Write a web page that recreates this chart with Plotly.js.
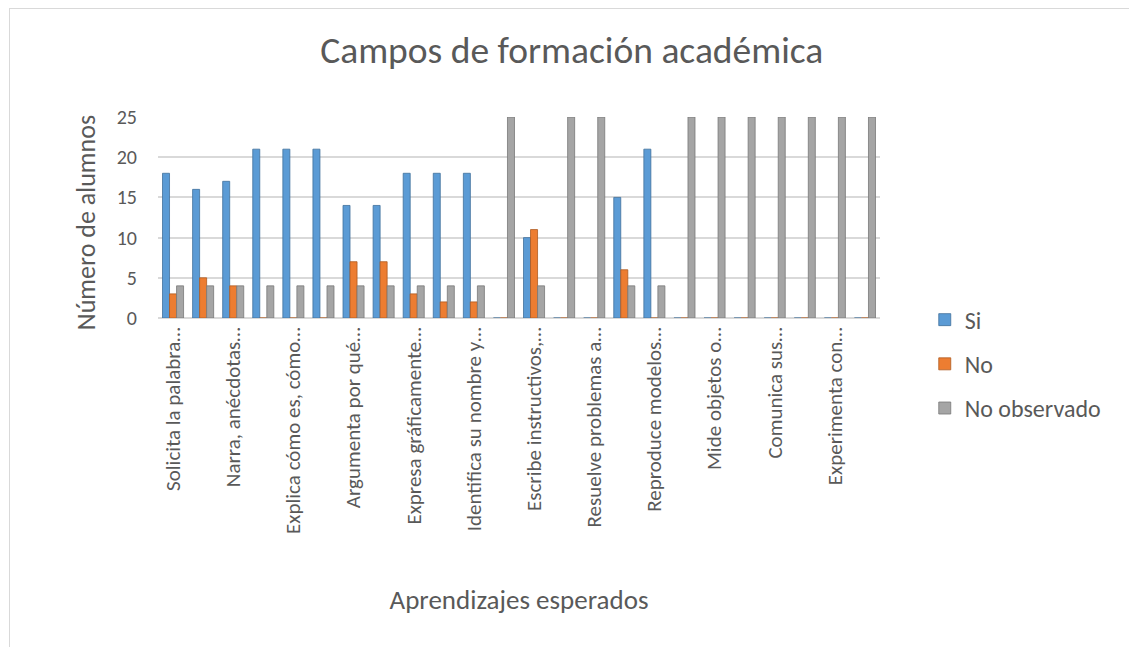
<!DOCTYPE html>
<html>
<head>
<meta charset="utf-8">
<script src="https://cdn.plot.ly/plotly-3.0.1.min.js"></script>
<style>
  html, body { margin: 0; padding: 0; background: #ffffff; overflow: hidden; }
  #frame { position: absolute; left: 9px; top: 8px; border-left: 1px solid #d9d9d9; border-top: 1px solid #d9d9d9; }
  #chart { width: 1119px; height: 638px; }
</style>
</head>
<body>
<div id="frame"><div id="chart"></div></div>
<script>
// Expected learnings (24 items; every other label is shown on the axis, truncated as in the source)
const itemIndex = [1,2,3,4,5,6,7,8,9,10,11,12,13,14,15,16,17,18,19,20,21,22,23,24];
const tickPositions = [1,3,5,7,9,11,13,15,17,19,21,23];
const tickLabels = [
  "Solicita la palabra…",
  "Narra, anécdotas…",
  "Explica cómo es, cómo…",
  "Argumenta por qué…",
  "Expresa gráficamente…",
  "Identifica su nombre y…",
  "Escribe instructivos,…",
  "Resuelve problemas a…",
  "Reproduce modelos…",
  "Mide objetos o…",
  "Comunica sus…",
  "Experimenta con…"
];
const si           = [18,16,17,21,21,21,14,14,18,18,18, 0,10, 0, 0,15,21, 0, 0, 0, 0, 0, 0, 0];
const no           = [ 3, 5, 4, 0, 0, 0, 7, 7, 3, 2, 2, 0,11, 0, 0, 6, 0, 0, 0, 0, 0, 0, 0, 0];
const noObservado  = [ 4, 4, 4, 4, 4, 4, 4, 4, 4, 4, 4,25, 4,25,25, 4, 4,25,25,25,25,25,25,25];

const FONT = "Carlito, Lato, 'Open Sans', sans-serif";
const TXT = "#595959";

const traces = [
  { name: "Si", y: si, color: "#5B9BD5", line: "#41719C" },
  { name: "No", y: no, color: "#ED7D31", line: "#AE5A21" },
  { name: "No observado", y: noObservado, color: "#A5A5A5", line: "#787878" }
].map((s, i) => ({
  type: "bar",
  name: s.name,
  x: itemIndex,
  y: s.y,
  legendgroup: "g" + i,
  marker: { color: s.color, line: { color: s.line, width: 0.8 } },
  hovertemplate: "%{y}<extra>" + s.name + "</extra>"
}));

const layout = {
  width: 1119,
  height: 638,
  paper_bgcolor: "#ffffff",
  plot_bgcolor: "#ffffff",
  font: { family: FONT, color: TXT, size: 20 },
  margin: { l: 148, r: 249, t: 108, b: 329, autoexpand: false },
  barmode: "group",
  bargap: 0.3,
  bargroupgap: 0,
  title: {
    text: "Campos de formación académica",
    font: { family: FONT, size: 37.5, color: TXT },
    x: 0.502, xref: "container", xanchor: "center",
    y: 1 - 41 / 638, yref: "container", yanchor: "middle"
  },
  xaxis: {
    range: [0.5, 24.5],
    tickmode: "array",
    tickvals: tickPositions,
    ticktext: tickLabels,
    tickangle: -90,
    tickfont: { size: 21, color: TXT, family: FONT },
    ticks: "",
    ticklabelstandoff: 4,
    showgrid: false,
    zeroline: false,
    showline: false,
    automargin: false,
    fixedrange: true,
    title: { text: "Aprendizajes esperados", font: { size: 27, color: TXT, family: FONT }, standoff: 57 }
  },
  yaxis: {
    range: [0, 25],
    tickmode: "linear",
    tick0: 0,
    dtick: 5,
    tickfont: { size: 20, color: TXT, family: FONT },
    ticks: "",
    ticklabelstandoff: 20,
    showgrid: true,
    gridcolor: "#d9d9d9",
    gridwidth: 1.5,
    zeroline: true,
    zerolinecolor: "#d9d9d9",
    zerolinewidth: 1.5,
    showline: false,
    automargin: false,
    fixedrange: true
  },
  annotations: [{
    text: "Número de alumnos",
    textangle: -90,
    xref: "paper", yref: "paper",
    x: -0.0997, y: 0.472,
    xanchor: "center", yanchor: "middle",
    showarrow: false,
    font: { size: 26, color: TXT, family: FONT }
  }],
  showlegend: true,
  legend: {
    x: 1.062, xanchor: "left", xref: "paper",
    y: -0.229, yanchor: "middle", yref: "paper",
    font: { size: 24, color: TXT, family: FONT },
    tracegroupgap: 10,
    bgcolor: "rgba(0,0,0,0)"
  }
};

Plotly.newPlot("chart", traces, layout, { displayModeBar: false, staticPlot: false, responsive: false });
</script>
</body>
</html>
